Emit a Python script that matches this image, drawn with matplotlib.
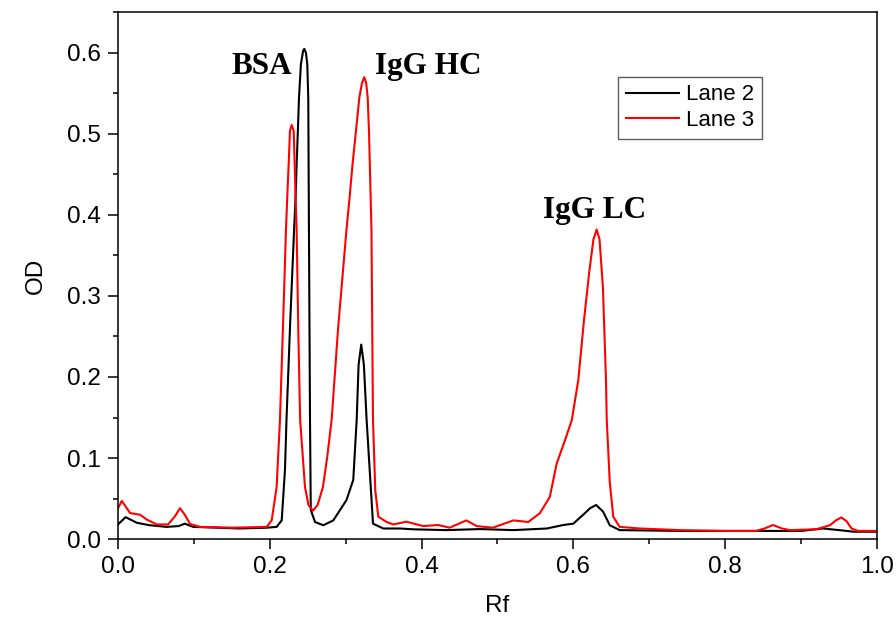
import numpy as np
import matplotlib
matplotlib.use("Agg")
import matplotlib.pyplot as plt
from matplotlib.ticker import MultipleLocator, FormatStrFormatter

plt.rcParams['font.family'] = ['Liberation Sans', 'DejaVu Sans']

# Lane 2 (black) densitometry trace
rf_lane2 = [0.000, 0.010, 0.025, 0.042, 0.064, 0.080, 0.088, 0.099, 0.130, 0.160,
            0.196, 0.209, 0.2157, 0.220, 0.222, 0.227, 0.232, 0.234, 0.2354, 0.237,
            0.2385, 0.241, 0.244, 0.2455, 0.2477, 0.2494, 0.2507, 0.2516, 0.2530, 0.254,
            0.2596, 0.2705, 0.2837, 0.301, 0.310, 0.3145, 0.317, 0.3205, 0.324, 0.3276,
            0.336, 0.3495, 0.3715, 0.389, 0.433, 0.477, 0.521, 0.565, 0.5867, 0.600,
            0.613, 0.622, 0.630, 0.639, 0.648, 0.661, 0.740, 0.800, 0.860, 0.900,
            0.929, 0.950, 0.970, 1.000]
od_lane2 = [0.018, 0.027, 0.020, 0.017, 0.015, 0.016, 0.019, 0.015, 0.014, 0.013,
            0.014, 0.015, 0.023, 0.085, 0.147, 0.270, 0.381, 0.422, 0.463, 0.504,
            0.545, 0.586, 0.603, 0.605, 0.600, 0.586, 0.545, 0.381, 0.147, 0.036,
            0.021, 0.017, 0.023, 0.048, 0.073, 0.147, 0.215, 0.240, 0.215, 0.147,
            0.019, 0.013, 0.013, 0.012, 0.011, 0.0123, 0.011, 0.013, 0.0173, 0.019,
            0.030, 0.038, 0.042, 0.034, 0.017, 0.011, 0.010, 0.010, 0.010, 0.010,
            0.013, 0.011, 0.009, 0.009]

# Lane 3 (red)
rf_lane3 = [0.000, 0.005, 0.016, 0.029, 0.038, 0.051, 0.066, 0.075, 0.0817, 0.088,
            0.095, 0.108, 0.152, 0.196, 0.2025, 0.209, 0.2134, 0.218, 0.2213, 0.223,
            0.2249, 0.2266, 0.2288, 0.2315, 0.2328, 0.234, 0.2354, 0.2375, 0.240, 0.2464,
            0.251, 0.257, 0.263, 0.270, 0.2755, 0.2815, 0.290, 0.301, 0.3052, 0.3091,
            0.3136, 0.318, 0.3215, 0.3245, 0.327, 0.329, 0.3307, 0.334, 0.3355, 0.336,
            0.339, 0.343, 0.354, 0.3627, 0.380, 0.402, 0.422, 0.437, 0.459, 0.4726,
            0.494, 0.521, 0.5406, 0.556, 0.569, 0.578, 0.589, 0.598, 0.6065, 0.614,
            0.621, 0.6265, 0.6307, 0.6345, 0.639, 0.643, 0.644, 0.648, 0.6526, 0.661,
            0.688, 0.740, 0.800, 0.841, 0.852, 0.863, 0.875, 0.885, 0.920, 0.938,
            0.946, 0.953, 0.960, 0.9666, 0.975, 1.000]
od_lane3 = [0.038, 0.047, 0.032, 0.030, 0.024, 0.018, 0.018, 0.028, 0.038, 0.030,
            0.0185, 0.015, 0.014, 0.015, 0.023, 0.064, 0.147, 0.280, 0.381, 0.422,
            0.463, 0.504, 0.511, 0.504, 0.463, 0.422, 0.381, 0.260, 0.147, 0.064,
            0.042, 0.035, 0.042, 0.064, 0.100, 0.147, 0.260, 0.381, 0.422, 0.463,
            0.504, 0.545, 0.563, 0.570, 0.563, 0.545, 0.504, 0.381, 0.200, 0.147,
            0.060, 0.0275, 0.021, 0.018, 0.0214, 0.016, 0.0173, 0.014, 0.023, 0.016,
            0.014, 0.023, 0.021, 0.032, 0.052, 0.093, 0.122, 0.147, 0.196, 0.270,
            0.330, 0.370, 0.382, 0.370, 0.310, 0.196, 0.147, 0.070, 0.0275, 0.015,
            0.013, 0.011, 0.010, 0.010, 0.013, 0.0173, 0.013, 0.011, 0.012, 0.017,
            0.023, 0.0267, 0.022, 0.013, 0.010, 0.010]

labels = ["Lane 2", "Lane 3"]
peak_names = ["BSA", "IgG HC", "IgG LC"]
peak_pos = [(0.1497, 0.574), (0.3386, 0.574), (0.5603, 0.3967)]

fig = plt.figure(figsize=(8.96, 6.21), dpi=100)
ax = fig.add_axes([0.1317, 0.132, 0.847, 0.848])

ax.plot(rf_lane2, od_lane2, color='black', lw=1.5, label=labels[0])
ax.plot(rf_lane3, od_lane3, color='red', lw=1.5, label=labels[1])

for name, (px, py) in zip(peak_names, peak_pos):
    ax.text(px, py, name, ha='left', va='baseline', fontsize=22.5,
            fontweight='bold', family=['Liberation Serif', 'DejaVu Serif'])

ax.set_xlim(0, 1.0)
ax.set_ylim(0, 0.65)
ax.xaxis.set_major_locator(MultipleLocator(0.2))
ax.xaxis.set_minor_locator(MultipleLocator(0.1))
ax.yaxis.set_major_locator(MultipleLocator(0.1))
ax.yaxis.set_minor_locator(MultipleLocator(0.05))
ax.xaxis.set_major_formatter(FormatStrFormatter('%.1f'))
ax.yaxis.set_major_formatter(FormatStrFormatter('%.1f'))
ax.tick_params(which='major', direction='out', length=7.5, width=1.1,
               labelsize=17.5, pad=5)
ax.tick_params(which='minor', direction='out', length=3.6, width=1.1)
for sp in ax.spines.values():
    sp.set_linewidth(1.1)

ax.set_xlabel('Rf', fontsize=17.5, labelpad=12)
ax.set_ylabel('OD', fontsize=17.5, labelpad=14)

leg = ax.legend(loc='upper left', bbox_to_anchor=(0.659, 0.878), fontsize=16,
                frameon=True, fancybox=False, handlelength=2.4,
                handletextpad=0.3, borderpad=0.35, labelspacing=0.2,
                borderaxespad=0)
leg.get_frame().set_edgecolor('#333333')
leg.get_frame().set_linewidth(1.0)

fig.savefig('out.png', dpi=100)
